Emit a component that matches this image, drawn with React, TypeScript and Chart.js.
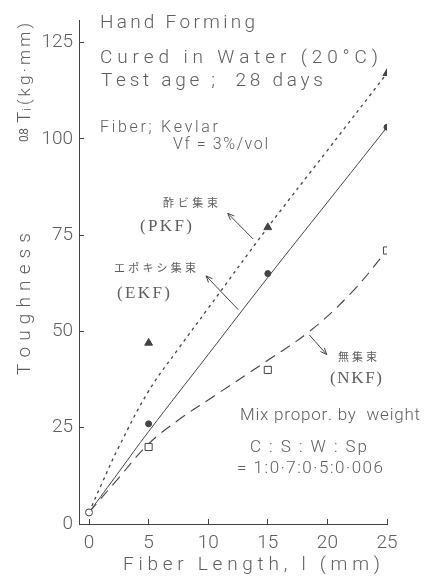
import React, { useEffect, useRef } from "react";
import { Chart, registerables } from "chart.js";

Chart.register(...registerables);

// ---- data ----
const fiberLengths = [5, 15, 25];
const pkfValues = [47, 77, 117];
const ekfValues = [26, 65, 103];
const nkfValues = [20, 40, 71];
const originLength = [0];
const originValue = [3];

const pkfCurveX = [0, 1, 2.5, 5, 7.5, 10, 15, 20, 25];
const pkfCurveY = [3, 10, 20, 34.5, 45.5, 56, 77, 97, 117];
const ekfCurveX = [0, 2.5, 5, 10, 15, 20, 25];
const ekfCurveY = [3, 13.5, 24, 44, 64, 83.5, 103];
const nkfCurveX = [0, 2.5, 5, 7.5, 10, 15, 18.5, 22, 25];
const nkfCurveY = [3, 12, 20.8, 27, 32.2, 42.5, 50, 60, 71];

const xTicks = [0, 5, 10, 15, 20, 25];
const yTicks = [0, 25, 50, 75, 100, 125];

const INK = "#444";
const TEXT = "#5e5e5e";
const SANS = "Roboto, 'Liberation Sans', Arial, sans-serif";
const W = "300";
const SERIF = "'Liberation Serif', serif";
const CJK = "'Noto Sans CJK JP', sans-serif";

const pts = (xs: number[], ys: number[]) => xs.map((x, i) => ({ x, y: ys[i] }));

function spaced(ctx: CanvasRenderingContext2D, text: string, x: number, y: number, width: number) {
  const chars = Array.from(text);
  const ws = chars.map((c) => ctx.measureText(c).width);
  const total = ws.reduce((a, b) => a + b, 0);
  const gap = chars.length > 1 ? (width - total) / (chars.length - 1) : 0;
  let cx = x;
  chars.forEach((c, i) => {
    ctx.fillText(c, cx, y);
    cx += ws[i] + gap;
  });
}

// arrows given in data units: [from, to]
const arrows: { from: [number, number]; to: [number, number] }[] = [
  { from: [13.76, 74.0], to: [11.64, 80.65] },
  { from: [12.53, 55.6], to: [9.82, 64.4] },
  { from: [18.48, 49.1], to: [19.94, 44.0] },
];

const annotationPlugin = {
  id: "annotations",
  afterDraw(chart: any) {
    const ctx: CanvasRenderingContext2D = chart.ctx;
    const xs = chart.scales.x;
    const ys = chart.scales.y;
    ctx.save();
    ctx.fillStyle = TEXT;
    ctx.textBaseline = "alphabetic";
    ctx.textAlign = "left";

    ctx.font = `${W} 19px ${SANS}`;
    spaced(ctx, "Hand Forming", 100, 28, 155);
    spaced(ctx, "Cured in Water (20°C)", 100, 63, 278);
    spaced(ctx, "Test age ;  28 days", 101, 86, 222);
    ctx.font = `${W} 16px ${SANS}`;
    spaced(ctx, "Fiber; Kevlar", 100, 132, 118);
    spaced(ctx, "Vf = 3%/vol", 173, 149, 95);

    ctx.font = `${W} 17px ${SANS}`;
    spaced(ctx, "Mix propor. by  weight", 240, 420, 180);
    spaced(ctx, "C : S : W : Sp", 250, 452, 117);
    spaced(ctx, "= 1:0·7:0·5:0·006", 237, 473, 146);

    ctx.font = `11px ${CJK}`;
    spaced(ctx, "酢ビ集束", 163, 207, 55);
    spaced(ctx, "エポキシ集束", 114, 272, 82);
    spaced(ctx, "無集束", 338, 361, 39);
    ctx.font = `17px ${SERIF}`;
    spaced(ctx, "(PKF)", 140, 231, 52);
    spaced(ctx, "(EKF)", 117, 298, 53);
    spaced(ctx, "(NKF)", 330, 383, 52);

    // x axis title
    ctx.font = `${W} 19px ${SANS}`;
    spaced(ctx, "Fiber Length, l (mm)", 123, 570, 257);

    // y axis title (rotated)
    ctx.save();
    ctx.translate(30, 375);
    ctx.rotate(-Math.PI / 2);
    ctx.font = `${W} 19px ${SANS}`;
    spaced(ctx, "Toughness", 0, 0, 142);
    ctx.restore();

    ctx.save();
    ctx.translate(30, 142);
    ctx.rotate(-Math.PI / 2);
    ctx.font = `400 12px ${SANS}`;
    spaced(ctx, "0.8", 0, -2, 14);
    ctx.font = `${W} 19px ${SANS}`;
    ctx.fillText("T", 19, 0);
    ctx.font = `${W} 13px ${SANS}`;
    ctx.fillText("i", 31, 1);
    ctx.font = `${W} 17px ${SANS}`;
    spaced(ctx, "(kg·mm)", 37, 0, 82);
    ctx.restore();

    // arrows
    ctx.strokeStyle = INK;
    ctx.lineWidth = 1;
    arrows.forEach(({ from, to }) => {
      const x1 = xs.getPixelForValue(from[0]);
      const y1 = ys.getPixelForValue(from[1]);
      const x2 = xs.getPixelForValue(to[0]);
      const y2 = ys.getPixelForValue(to[1]);
      ctx.beginPath();
      ctx.moveTo(x1, y1);
      ctx.lineTo(x2, y2);
      const a = Math.atan2(y2 - y1, x2 - x1);
      const L = 7;
      ctx.moveTo(x2, y2);
      ctx.lineTo(x2 - L * Math.cos(a - 0.4), y2 - L * Math.sin(a - 0.4));
      ctx.moveTo(x2, y2);
      ctx.lineTo(x2 - L * Math.cos(a + 0.4), y2 - L * Math.sin(a + 0.4));
      ctx.stroke();
    });
    ctx.restore();
  },
};

export default function App() {
  const ref = useRef<HTMLCanvasElement | null>(null);

  useEffect(() => {
    if (!ref.current) return;
    const curve = (data: any, dash: number[], width = 1.1) => ({
      type: "scatter" as const,
      data,
      showLine: true,
      borderColor: INK,
      borderWidth: width,
      borderDash: dash,
      pointRadius: 0,
      tension: 0.4,
      fill: false,
    });
    const chart = new Chart(ref.current, {
      type: "scatter",
      data: {
        datasets: [
          {
            label: "origin",
            data: pts(originLength, originValue),
            pointStyle: "circle",
            pointRadius: 3.5,
            pointBackgroundColor: "#fff",
            pointBorderColor: INK,
            pointBorderWidth: 1,
          },
          {
            label: "PKF",
            data: pts(fiberLengths, pkfValues),
            pointStyle: "triangle",
            pointRadius: 4.5,
            pointBackgroundColor: INK,
            pointBorderColor: INK,
          },
          {
            label: "EKF",
            data: pts(fiberLengths, ekfValues),
            pointStyle: "circle",
            pointRadius: 3,
            pointBackgroundColor: INK,
            pointBorderColor: INK,
          },
          {
            label: "NKF",
            data: pts(fiberLengths, nkfValues),
            pointStyle: "rect",
            pointRadius: 5,
            pointBackgroundColor: "#fff",
            pointBorderColor: INK,
            pointBorderWidth: 1,
          },
          { label: "PKF curve", ...curve(pts(pkfCurveX, pkfCurveY), [3, 4], 1.3) },
          { label: "EKF curve", ...curve(pts(ekfCurveX, ekfCurveY), [], 1) },
          { label: "NKF curve", ...curve(pts(nkfCurveX, nkfCurveY), [11, 7], 1.1) },
        ] as any,
      },
      options: {
        animation: false,
        responsive: false,
        devicePixelRatio: 1,
        layout: { padding: { left: 0, top: 10, right: 43, bottom: 0 } },
        plugins: {
          legend: { display: false },
          tooltip: { enabled: false },
          title: { display: false },
        },
        scales: {
          x: {
            type: "linear",
            min: -0.84,
            max: 25,
            afterBuildTicks: (s: any) => {
              s.ticks = xTicks.map((v) => ({ value: v }));
            },
            afterFit: (s: any) => {
              s.height = 54;
            },
            grid: { drawOnChartArea: false, tickLength: -5, color: INK, lineWidth: 1 },
            border: { color: INK, width: 1 },
            ticks: {
              padding: 15,
              color: TEXT,
              autoSkip: false,
              maxRotation: 0,
              font: { family: SANS, size: 19, weight: W as any, lineHeight: 1 },
            },
          },
          y: {
            type: "linear",
            min: 0,
            max: 130.7,
            afterBuildTicks: (s: any) => {
              s.ticks = yTicks.map((v) => ({ value: v }));
            },
            afterFit: (s: any) => {
              s.width = 79;
            },
            grid: { drawOnChartArea: false, tickLength: -5, color: INK, lineWidth: 1 },
            border: { color: INK, width: 1 },
            ticks: {
              padding: 11,
              color: TEXT,
              autoSkip: false,
              font: { family: SANS, size: 19, weight: W as any, lineHeight: 1 },
            },
          },
        },
      },
      plugins: [annotationPlugin],
    });
    return () => chart.destroy();
  }, []);

  return (
    <div style={{ position: "absolute", left: 0, top: 0, width: 430, height: 578, background: "#fff" }}>
      <canvas ref={ref} width={430} height={578} style={{ display: "block", width: 430, height: 578 }} />
    </div>
  );
}
